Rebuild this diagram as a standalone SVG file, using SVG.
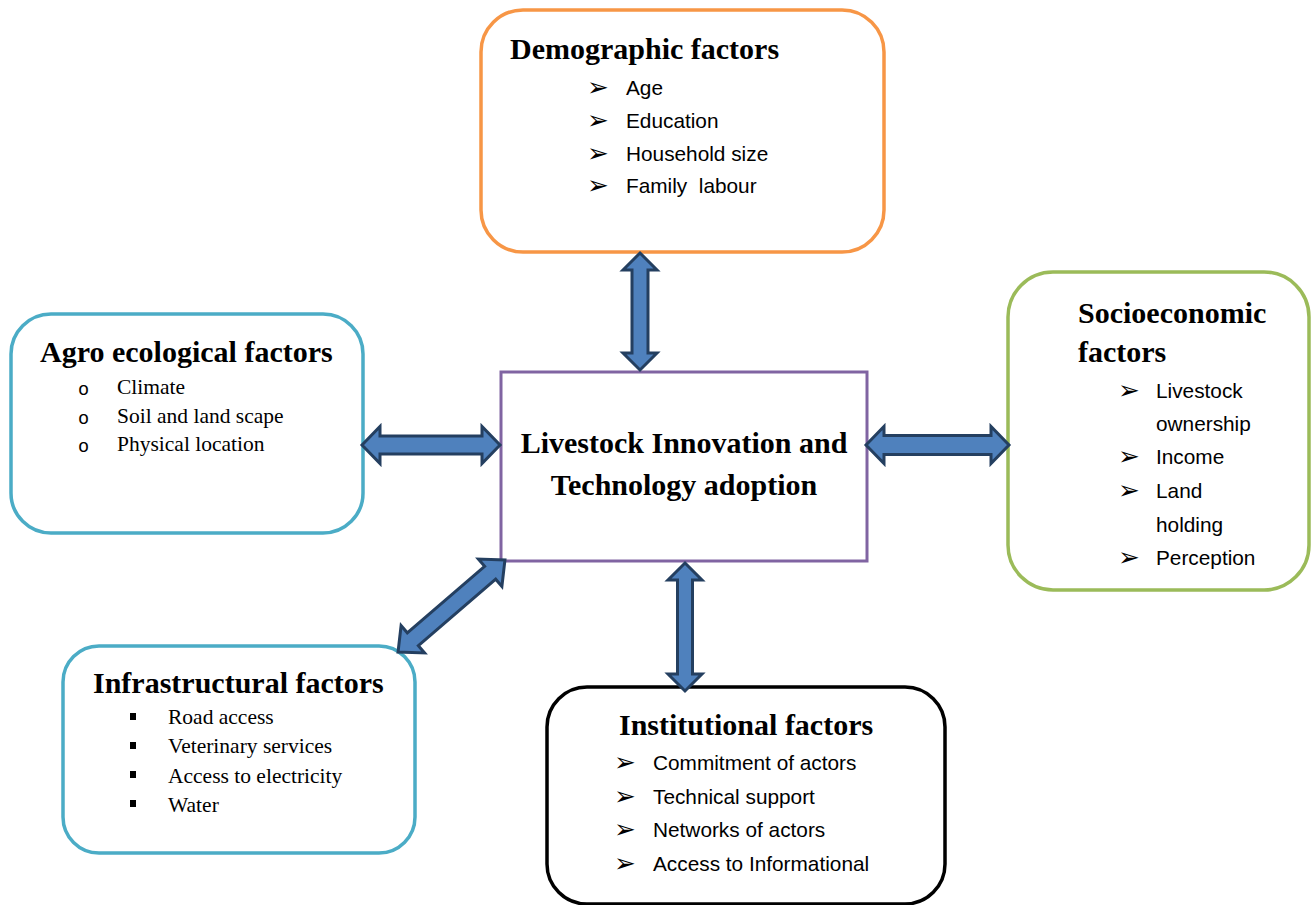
<svg xmlns="http://www.w3.org/2000/svg" width="1312" height="905" viewBox="0 0 1312 905">
<style>
.box{fill:#fff;stroke-width:3.5}
.t{font-family:"Liberation Serif","Times New Roman",serif;font-weight:bold;font-size:30px;fill:#000}
.c{font-family:"Liberation Sans",Arial,sans-serif;font-size:20.8px;fill:#000}
.r{font-family:"Liberation Serif","Times New Roman",serif;font-size:21.5px;fill:#000}
.b{font-family:"DejaVu Sans",sans-serif;font-size:26px;fill:#000}
.o{font-family:"Liberation Mono","Courier New",monospace;font-size:18.5px;fill:#000}
.arr{fill:#4F81BD;stroke:#243F60;stroke-width:3;stroke-linejoin:miter}
</style>
<rect width="1312" height="905" fill="#fff"/>
<g id="demographic">
<rect class="box" x="481" y="10" width="403" height="242" rx="42" stroke="#F79646"/>
<text class="t" x="510" y="59">Demographic factors</text>
<text class="b" x="587" y="96">➢</text><text class="c" x="626" y="95">Age</text>
<text class="b" x="587" y="129">➢</text><text class="c" x="626" y="128">Education</text>
<text class="b" x="587" y="161.5">➢</text><text class="c" x="626" y="160.5">Household size</text>
<text class="b" x="587" y="194">➢</text><text class="c" x="626" y="193" xml:space="preserve">Family  labour</text>
</g>
<g id="agro">
<rect class="box" x="11" y="314" width="352" height="219" rx="40" stroke="#4BACC6"/>
<text class="t" x="40" y="362">Agro ecological factors</text>
<text class="o" x="78" y="394.5">o</text><text class="r" x="117" y="393.5">Climate</text>
<text class="o" x="78" y="423.5">o</text><text class="r" x="117" y="422.5">Soil and land scape</text>
<text class="o" x="78" y="452">o</text><text class="r" x="117" y="451">Physical location</text>
</g>
<g id="center">
<rect x="501" y="372" width="366" height="189" fill="#fff" stroke="#8064A2" stroke-width="3"/>
<text class="t" x="684" y="453" text-anchor="middle">Livestock Innovation and</text>
<text class="t" x="684" y="495" text-anchor="middle">Technology adoption</text>
</g>
<g id="socioeconomic">
<rect class="box" x="1008" y="272" width="301" height="318" rx="45" stroke="#9BBB59"/>
<text class="t" x="1078" y="323">Socioeconomic</text>
<text class="t" x="1078" y="362">factors</text>
<text class="b" x="1118" y="399">➢</text><text class="c" x="1156" y="398">Livestock</text>
<text class="c" x="1156" y="431">ownership</text>
<text class="b" x="1118" y="465">➢</text><text class="c" x="1156" y="464">Income</text>
<text class="b" x="1118" y="498.5">➢</text><text class="c" x="1156" y="497.5">Land</text>
<text class="c" x="1156" y="531.5">holding</text>
<text class="b" x="1118" y="566">➢</text><text class="c" x="1156" y="565">Perception</text>
</g>
<g id="infrastructural">
<rect class="box" x="63" y="646" width="352" height="207" rx="36" stroke="#4BACC6"/>
<text class="t" x="93" y="693">Infrastructural factors</text>
<rect x="130" y="713" width="6" height="7"/><text class="r" x="168" y="724">Road access</text>
<rect x="130" y="742" width="6" height="7"/><text class="r" x="168" y="753">Veterinary services</text>
<rect x="130" y="771" width="6" height="7"/><text class="r" x="168" y="782.5">Access to electricity</text>
<rect x="130" y="800" width="6" height="7"/><text class="r" x="168" y="811.5">Water</text>
</g>
<g id="institutional">
<rect class="box" x="547" y="687" width="398" height="217" rx="40" stroke="#000"/>
<text class="t" x="619" y="735">Institutional factors</text>
<text class="b" x="614" y="771">➢</text><text class="c" x="653" y="770">Commitment of actors</text>
<text class="b" x="614" y="805">➢</text><text class="c" x="653" y="804">Technical support</text>
<text class="b" x="614" y="838">➢</text><text class="c" x="653" y="837">Networks of actors</text>
<text class="b" x="614" y="872">➢</text><text class="c" x="653" y="871">Access to Informational</text>
</g>
<g id="connectors">
<polygon class="arr" points="640,253 657,270 648,270 648,353 657,353 640,370 623,353 632,353 632,270 623,270"/>
<polygon class="arr" points="362,445 380,426.5 380,436 482,436 482,426.5 500,445 482,463.5 482,454 380,454 380,463.5"/>
<polygon class="arr" points="866,445 884,426.5 884,435.5 991,435.5 991,426.5 1009,445 991,463.5 991,454.5 884,454.5 884,463.5"/>
<polygon class="arr" points="685,563 702,580 692.5,580 692.5,674 702,674 685,691 668,674 677.5,674 677.5,580 668,580"/>
<polygon class="arr" transform="translate(451.5 606) rotate(-40.7)" points="-70.5,0 -51,-18 -51,-8.5 51,-8.5 51,-18 70.5,0 51,18 51,8.5 -51,8.5 -51,18"/>
</g>
</svg>
